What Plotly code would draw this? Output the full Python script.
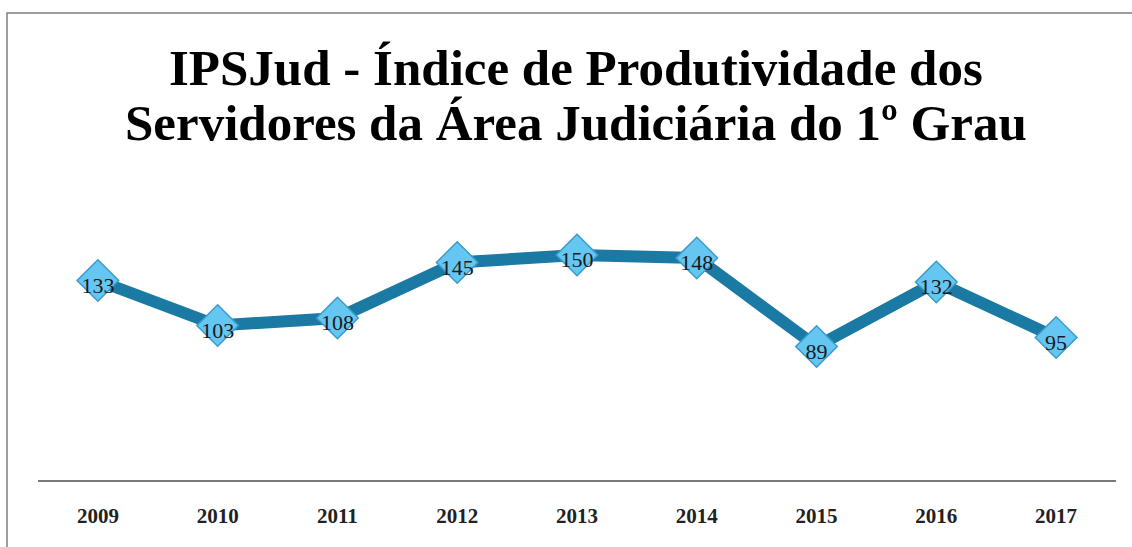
import plotly.graph_objects as go

years = ["2009", "2010", "2011", "2012", "2013", "2014", "2015", "2016", "2017"]
ipsjud = [133, 103, 108, 145, 150, 148, 89, 132, 95]
title_lines = ["IPSJud - Índice de Produtividade dos", "Servidores da Área Judiciária do 1º Grau"]

W, H = 1132, 547
L, R, T, B = 38, 16, 210, 67
pw, ph = W - L - R, H - T - B

fig = go.Figure()
fig.add_trace(go.Scatter(
    x=years, y=ipsjud,
    mode="lines+markers",
    line=dict(color="#1B7AA3", width=12),
    marker=dict(symbol="diamond", size=32, color="#66C6F2",
                line=dict(color="#3A9BCB", width=1.5)),
    cliponaxis=False,
    hoverinfo="skip",
))
# labels on a twin axis shifted slightly so they sit a little below marker centre
fig.add_trace(go.Scatter(
    x=years, y=ipsjud, yaxis="y2",
    mode="text",
    text=[str(v) for v in ipsjud],
    textposition="middle center",
    textfont=dict(family="Liberation Serif", size=22, color="#1a1a1a"),
    cliponaxis=False,
    hoverinfo="skip",
))

annotations = []
title_centers = [68, 123]
for line, cy in zip(title_lines, title_centers):
    annotations.append(dict(
        text="<b>" + line + "</b>",
        xref="paper", yref="paper", x=(576 - L) / pw, y=(H - B - cy) / ph,
        xanchor="center", yanchor="middle", showarrow=False,
        font=dict(family="Liberation Serif", size=51, color="#000000"),
    ))

fig.update_layout(
    width=W, height=H,
    margin=dict(l=L, r=R, t=T, b=B),
    paper_bgcolor="white", plot_bgcolor="white",
    showlegend=False,
    xaxis=dict(type="category", range=[-0.5, 8.5], showgrid=False, zeroline=False,
               showline=True, linecolor="#7a7a7a", linewidth=2,
               ticks="", ticklabelstandoff=16,
               tickfont=dict(family="Liberation Serif", size=21, color="#222222", weight="bold")),
    yaxis=dict(range=[0, 180], visible=False, showgrid=False, zeroline=False),
    yaxis2=dict(range=[4.5, 184.5], overlaying="y", visible=False, showgrid=False, zeroline=False),
    annotations=annotations,
    shapes=[dict(type="rect", xref="paper", yref="paper",
                 x0=(7 - L) / pw, x1=1.2, y0=-0.6, y1=(H - B - 13) / ph,
                 line=dict(color="#7f7f7f", width=1.5), layer="below")],
)

fig.write_html("out.html")
